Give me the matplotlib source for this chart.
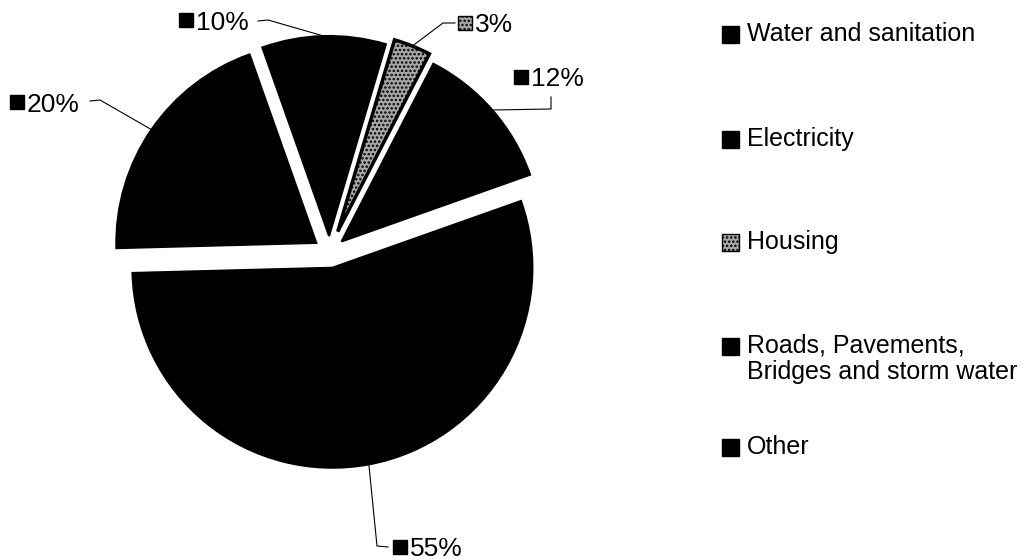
import numpy as np
import matplotlib.pyplot as plt
from matplotlib.patches import Rectangle

plt.rcParams['font.family'] = ['Liberation Sans', 'DejaVu Sans']
plt.rcParams['hatch.linewidth'] = 1.2

categories = ['Water and sanitation', 'Electricity', 'Housing',
              'Roads, Pavements,\nBridges and storm water', 'Other']
shares = [20, 10, 3, 12, 55]
pct_labels = ['20%', '10%', '3%', '12%', '55%']

W, H = 1027, 560


def Y(y):
    # layout below is measured from the top edge
    return H - y


fig = plt.figure(figsize=(W / 100, H / 100), dpi=100)
ax = fig.add_axes([0, 0, 1, 1])

R = 200
faces = ['black', 'black', '#a8a8a8', 'black', 'black']
hatches = [None, None, '....', None, None]
# matplotlib offsets exploded wedges in data units, so scale by the radius
explode = [f * R for f in (0.08, 0.08, 0.11, 0.08, 0.08)]

wedges, _ = ax.pie(shares, explode=explode, startangle=181.5, counterclock=False,
                   center=(329.5, Y(252)), radius=R, frame=True,
                   colors=faces, wedgeprops=dict(edgecolor='black', linewidth=1.5))
for w, h in zip(wedges, hatches):
    if h:
        w.set_hatch(h)
        w.set_linewidth(2.5)

ax.set_xlim(0, W)
ax.set_ylim(0, H)
ax.set_aspect('equal')
ax.axis('off')

# percentage labels: icon centre and leader path (start, elbow) per slice
icon_at = [(17, 102), (186, 20), (465, 23), (521, 77), (400, 547)]
leader = [((90, 101), (100, 100)),
          ((258, 21), (268, 20)),
          ((455, 23), (443, 23)),
          ((551, 97), (551, 109)),
          ((388, 547), (377, 546))]

for w, lab, (ix, iy), ((sx, sy), (ex, ey)), h in zip(wedges, pct_labels, icon_at, leader, hatches):
    mid = np.deg2rad((w.theta1 + w.theta2) / 2)
    cx, cy = w.center
    anchor = (cx + w.r * np.cos(mid), cy + w.r * np.sin(mid))
    ax.plot([sx, ex, anchor[0]], [Y(sy), Y(ey), anchor[1]], color='black', lw=0.8)
    ax.add_patch(Rectangle((ix - 7, Y(iy) - 7), 14, 14, facecolor=w.get_facecolor(),
                           edgecolor='black', lw=1, hatch=h))
    ax.text(ix + 10, Y(iy), lab, fontsize=19, va='center_baseline', ha='left')

# legend on the right
legend_y = [35, 140, 243, 347, 448]
for w, name, ly, h in zip(wedges, categories, legend_y, hatches):
    ax.add_patch(Rectangle((722, Y(ly) - 8), 17, 17, facecolor=w.get_facecolor(),
                           edgecolor='black', lw=1, hatch=h))
    ax.text(747, Y(ly) + 13, name, fontsize=18, va='top', ha='left', linespacing=1.1)

fig.savefig('out.png', dpi=100, facecolor='white')
